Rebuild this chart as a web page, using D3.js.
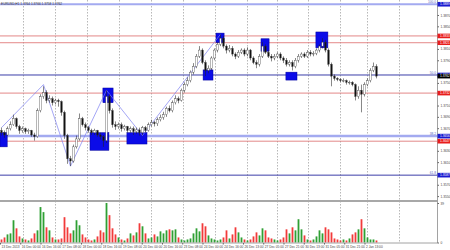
<!DOCTYPE html>
<html><head><meta charset="utf-8">
<script src="https://cdn.jsdelivr.net/npm/d3@7"></script>
<style>html,body{margin:0;padding:0;background:#fff;}svg{display:block;font-family:"Liberation Sans",Arial,sans-serif;}</style>
</head><body><svg id="c" width="450" height="250"></svg>
<script>
// ---------------- DATA ----------------
const symbolTitle = "EURUSD,H1  1.3764 1.3766 1.3758 1.3762";
const firstOpen = 1.3666;
const closes = [
1.3662,1.3658,1.3669,1.3676,1.3687,1.3673,1.3666,1.3669,1.3664,1.3666,
1.3658,1.3655,1.3701,1.3726,1.3733,1.3719,1.3722,1.3715,1.3719,1.3717,
1.3698,1.3657,1.3616,1.3612,1.3637,1.3651,1.3687,1.3676,1.3671,1.3666,
1.3662,1.3666,1.3658,1.3655,1.3648,1.3726,1.3701,1.3676,1.3673,1.3676,
1.3669,1.3673,1.3666,1.3669,1.3664,1.3667,1.3662,1.3671,1.3666,1.3676,
1.3680,1.3678,1.3685,1.3689,1.3694,1.3705,1.3701,1.3715,1.3722,1.3719,
1.3737,1.3747,1.3754,1.3769,1.3779,1.3797,1.3808,1.3786,1.3772,1.3776,
1.3794,1.3808,1.3818,1.3829,1.3815,1.3808,1.3811,1.3801,1.3797,1.3804,
1.3808,1.3801,1.3808,1.3794,1.3786,1.3783,1.3797,1.3815,1.3804,1.3797,
1.3794,1.3797,1.3801,1.3794,1.3790,1.3783,1.3786,1.3779,1.3790,1.3797,
1.3801,1.3797,1.3804,1.3801,1.3802,1.3808,1.3815,1.3822,1.3808,1.3783,
1.3762,1.3758,1.3756,1.3754,1.3754,1.3751,1.3751,1.3747,1.3726,1.3737,
1.3730,1.3747,1.3754,1.3772,1.3779,1.3762];
const highs = [
1.3671,1.3666,1.3673,1.3682,1.3694,1.3689,1.3676,1.3673,1.3671,1.3669,
1.3667,1.3662,1.3705,1.3730,1.3744,1.3737,1.3728,1.3726,1.3722,1.3722,
1.3719,1.3701,1.3660,1.3621,1.3641,1.3657,1.3696,1.3690,1.3680,1.3674,
1.3669,1.3669,1.3667,1.3662,1.3658,1.3737,1.3730,1.3705,1.3682,1.3680,
1.3680,1.3676,1.3674,1.3673,1.3673,1.3671,1.3671,1.3674,1.3674,1.3680,
1.3685,1.3683,1.3689,1.3694,1.3699,1.3708,1.3710,1.3719,1.3728,1.3726,
1.3740,1.3751,1.3760,1.3772,1.3785,1.3801,1.3815,1.3811,1.3790,1.3781,
1.3797,1.3811,1.3822,1.3836,1.3833,1.3818,1.3817,1.3815,1.3804,1.3808,
1.3811,1.3811,1.3813,1.3810,1.3797,1.3790,1.3801,1.3822,1.3818,1.3808,
1.3801,1.3801,1.3804,1.3804,1.3797,1.3794,1.3790,1.3790,1.3794,1.3801,
1.3804,1.3804,1.3808,1.3808,1.3806,1.3811,1.3818,1.3829,1.3826,1.3811,
1.3786,1.3765,1.3760,1.3758,1.3758,1.3756,1.3754,1.3753,1.3749,1.3744,
1.3747,1.3751,1.3758,1.3776,1.3786,1.3783];
const lows = [
1.3657,1.3653,1.3657,1.3666,1.3674,1.3669,1.3660,1.3662,1.3660,1.3660,
1.3655,1.3648,1.3653,1.3698,1.3722,1.3714,1.3715,1.3710,1.3712,1.3708,
1.3692,1.3651,1.3607,1.3603,1.3609,1.3634,1.3648,1.3673,1.3666,1.3662,
1.3658,1.3658,1.3655,1.3650,1.3637,1.3644,1.3696,1.3671,1.3667,1.3669,
1.3664,1.3666,1.3662,1.3662,1.3658,1.3660,1.3657,1.3658,1.3662,1.3664,
1.3673,1.3673,1.3674,1.3682,1.3685,1.3690,1.3698,1.3698,1.3712,1.3714,
1.3717,1.3733,1.3744,1.3751,1.3765,1.3776,1.3794,1.3783,1.3762,1.3767,
1.3772,1.3790,1.3804,1.3815,1.3811,1.3802,1.3804,1.3797,1.3792,1.3794,
1.3801,1.3797,1.3797,1.3790,1.3783,1.3776,1.3779,1.3794,1.3801,1.3794,
1.3788,1.3790,1.3794,1.3790,1.3785,1.3779,1.3779,1.3772,1.3776,1.3786,
1.3794,1.3794,1.3794,1.3797,1.3797,1.3799,1.3804,1.3811,1.3804,1.3779,
1.3744,1.3754,1.3753,1.3751,1.3751,1.3747,1.3747,1.3744,1.3719,1.3722,
1.3698,1.3726,1.3744,1.3751,1.3769,1.3758];
const volumes = [
3,5,8,9,22,14,6,4,3,2,
4,9,12,35,30,15,12,5,3,3,
4,25,15,9,12,22,17,8,5,3,
2,3,6,12,10,39,27,14,8,5,
3,2,4,9,7,10,19,16,9,4,
5,8,6,11,9,12,13,12,13,5,
3,2,3,4,9,14,11,19,16,7,
4,3,2,3,5,12,4,8,15,10,
5,3,2,3,6,10,7,14,12,5,
4,3,2,3,5,13,9,15,12,23,
13,7,3,2,3,6,12,9,15,13,
10,4,3,2,3,2,4,8,10,13,
23,14,5,3,3,2];
const volumeTop = 39;
const priceTicks = [1.3870,1.3850,1.3830,1.3810,1.3790,1.3770,1.3750,1.3730,1.3710,1.3690,1.3670,1.3650,1.3630,1.3610,1.3590,1.3570,1.3550];
const timeLabels = ["13 Dec 2013","16 Dec 00:00","16 Dec 16:00","17 Dec 08:00","18 Dec 00:00","18 Dec 16:00","19 Dec 08:00","20 Dec 00:00","20 Dec 16:00","23 Dec 08:00","24 Dec 00:00","24 Dec 16:00","26 Dec 13:00","27 Dec 05:00","27 Dec 21:00","30 Dec 13:00","31 Dec 05:00","31 Dec 21:00","2 Jan 13:00"];
const timeLabelBars = [0,6.75,13.5,20.25,27,33.75,40.5,47.25,54,60.75,67.5,74.25,81,87.75,94.5,101.25,108,114.75,121.5];
const gridBars = [7.67,18.33,29,39.67,50.33,61,71.67,82.33,92.33,102.67,113.33,122.33,133];
const fibPrices = [1.3889,1.3764,1.3656,1.3587];
const fibNames = ["100.0","50.0","38.2","61.8"];
const redPrices = [1.3833,1.3821,1.3732,1.3647];
const boxBarStart = [0,34.3,30,42.3,67.7,72,87,95.3,105.3];
const boxBarEnd   = [2.4,37.7,36.3,49,71,74.7,89.7,99,109.3];
const boxPriceTop = [1.3662,1.3741,1.3662,1.3662,1.3773,1.3838,1.3828,1.3769,1.3840];
const boxPriceBot = [1.3637,1.3715,1.3631,1.3642,1.3755,1.3821,1.3806,1.3755,1.3812];
const zigzagBars = [0,14,23,35,47,73];
const zigzagPrices = [1.3671,1.3747,1.3603,1.3737,1.3657,1.3836];

// ---------------- DRAW ----------------
const svg = d3.select("#c");
const W = 450, H = 250, plotRight = 437;
const x = d3.scaleLinear().domain([0, 145.67]).range([0, plotRight]);
const y = d3.scaleLinear().domain([1.35431, 1.38965]).range([200, 0]);
const vy = d3.scaleLinear().domain([0, volumeTop]).range([242.5, 203]);
const fs = 3.2;
const tagH = 4.6;

const bars = closes.map((c, i) => ({
  i, c, h: highs[i], l: lows[i], o: i === 0 ? firstOpen : closes[i - 1], v: volumes[i]
}));

// grid
svg.append("g").selectAll("line").data(gridBars).join("line")
  .attr("x1", d => Math.round(x(d)) + 0.5).attr("x2", d => Math.round(x(d)) + 0.5)
  .attr("y1", 0).attr("y2", 243)
  .attr("stroke", "#9a9a9a").attr("stroke-width", 0.7).attr("stroke-dasharray", "1.5,1.5");

// separator between price and volume panes
svg.append("line").attr("x1", 0).attr("x2", plotRight).attr("y1", 201).attr("y2", 201)
  .attr("stroke", "#a8a8a8").attr("stroke-width", 2);

// fib levels
const fibStyle = [{c:"#a3aaf0", w:2}, {c:"#3b3ea8", w:1}, {c:"#a3aaf0", w:2.5}, {c:"#3b3ea8", w:1}];
svg.append("g").selectAll("line").data(fibPrices).join("line")
  .attr("x1", 0).attr("x2", plotRight)
  .attr("y1", d => y(d)).attr("y2", d => y(d))
  .attr("stroke", (d, i) => fibStyle[i].c).attr("stroke-width", (d, i) => fibStyle[i].w);
svg.append("g").selectAll("text").data(fibPrices).join("text")
  .attr("x", plotRight - 1).attr("y", d => y(d) - 1.3)
  .attr("text-anchor", "end").attr("font-size", fs).attr("fill", "#5a5fc0")
  .text((d, i) => fibNames[i]);

// red levels
svg.append("g").selectAll("line").data(redPrices).join("line")
  .attr("x1", 0).attr("x2", plotRight)
  .attr("y1", d => y(d)).attr("y2", d => y(d))
  .attr("stroke", "#e07b7b").attr("stroke-width", 0.9);

// rectangles
svg.append("g").selectAll("rect").data(boxBarStart).join("rect")
  .attr("x", (d, i) => x(d)).attr("width", (d, i) => x(boxBarEnd[i]) - x(d))
  .attr("y", (d, i) => y(boxPriceTop[i])).attr("height", (d, i) => y(boxPriceBot[i]) - y(boxPriceTop[i]))
  .attr("fill", "#0b0be8").attr("stroke", "#00009a").attr("stroke-width", 0.5);

// zigzag
svg.append("path")
  .attr("d", d3.line().x((d, i) => x(zigzagBars[i] + 0.5)).y(d => y(d))(zigzagPrices))
  .attr("fill", "none").attr("stroke", "#7d80f0").attr("stroke-width", 0.7);

// candles
const cg = svg.append("g");
cg.selectAll("line").data(bars).join("line")
  .attr("x1", d => x(d.i + 0.5)).attr("x2", d => x(d.i + 0.5))
  .attr("y1", d => y(d.h)).attr("y2", d => y(d.l))
  .attr("stroke", "#222").attr("stroke-width", 0.55);
cg.selectAll("rect").data(bars).join("rect")
  .attr("x", d => x(d.i + 0.5) - 0.8).attr("width", 1.6)
  .attr("y", d => y(Math.max(d.o, d.c)))
  .attr("height", d => Math.max(0.6, Math.abs(y(d.o) - y(d.c))))
  .attr("fill", d => d.c >= d.o ? "#fff" : "#111")
  .attr("stroke", "#333").attr("stroke-width", 0.35);

// volumes
svg.append("g").selectAll("rect").data(bars).join("rect")
  .attr("x", d => x(d.i + 0.5) - 0.9).attr("width", 1.8)
  .attr("y", d => vy(d.v)).attr("height", d => vy(0) - vy(d.v))
  .attr("fill", d => d.c >= d.o ? "#2fa034" : "#f23a3a");

// right border
svg.append("line").attr("x1", plotRight + 0.5).attr("x2", plotRight + 0.5).attr("y1", 0).attr("y2", 243)
  .attr("stroke", "#8a8a8a").attr("stroke-width", 0.8);
svg.append("line").attr("x1", 0).attr("x2", plotRight + 0.5).attr("y1", 243).attr("y2", 243)
  .attr("stroke", "#8a8a8a").attr("stroke-width", 0.8);

// price axis (tick labels hidden under level tags are skipped, as on the terminal)
const tagPrices = redPrices.concat(fibPrices, [closes[closes.length - 1]]);
const visibleTicks = priceTicks.filter(t => tagPrices.every(p => Math.abs(y(p) - y(t)) > tagH / 2 + 1.8));
const pa = svg.append("g").attr("transform", `translate(${plotRight + 0.5},0)`)
  .call(d3.axisRight(y).tickValues(visibleTicks).tickSize(1.5).tickPadding(1.5).tickFormat(d3.format(".4f")));
pa.select(".domain").remove();
pa.selectAll("line").attr("stroke", "#666");
pa.selectAll("text").attr("font-size", fs).attr("fill", "#444").attr("font-family", "Liberation Sans");

// volume axis
const va = svg.append("g").attr("transform", `translate(${plotRight + 0.5},0)`)
  .call(d3.axisRight(vy).tickValues([volumeTop, 0]).tickSize(1.5).tickPadding(1.5));
va.select(".domain").remove();
va.selectAll("line").attr("stroke", "#666");
va.selectAll("text").attr("font-size", fs).attr("fill", "#444").attr("font-family", "Liberation Sans");

// level boxes on price axis
function tag(price, fill) {
  const g = svg.append("g");
  g.append("rect").attr("x", plotRight + 0.5).attr("y", y(price) - tagH / 2).attr("width", W - plotRight).attr("height", tagH).attr("fill", fill);
  g.append("text").attr("x", plotRight + 3).attr("y", y(price) + 1.1).attr("font-size", fs).attr("fill", "#fff")
    .attr("font-family", "Liberation Sans").text(d3.format(".4f")(price));
}
redPrices.forEach(p => tag(p, "#e81c1c"));
fibPrices.forEach(p => tag(p, "#1a1ad0"));
tag(closes[closes.length - 1], "#000");

// time axis
const ta = svg.append("g").attr("transform", "translate(0,243)")
  .call(d3.axisBottom(x).tickValues(timeLabelBars).tickSize(1.5).tickPadding(1.2).tickFormat((d, i) => timeLabels[i]));
ta.select(".domain").remove();
ta.selectAll("line").attr("stroke", "#666");
ta.selectAll("text").attr("font-size", fs).attr("fill", "#444").attr("text-anchor", "start").attr("dx", 1).attr("font-family", "Liberation Sans");

// title
svg.append("text").attr("x", 1).attr("y", 4.5).attr("font-size", fs).attr("fill", "#333")
  .attr("font-family", "Liberation Sans").text(symbolTitle);
</script>
</body></html>
